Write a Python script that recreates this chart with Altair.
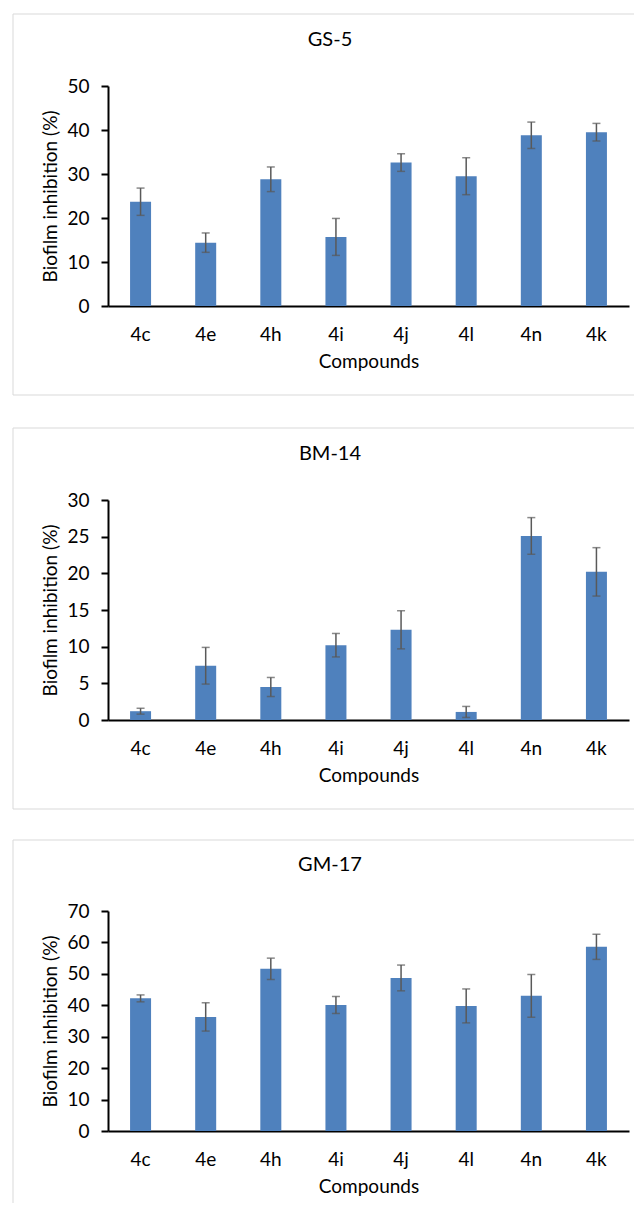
import altair as alt
import pandas as pd

compounds = ["4c", "4e", "4h", "4i", "4j", "4l", "4n", "4k"]

gs5_mean = [23.7, 14.4, 28.8, 15.7, 32.6, 29.5, 38.8, 39.5]
gs5_err = [3.1, 2.2, 2.8, 4.2, 2.0, 4.2, 3.0, 2.0]

bm14_mean = [1.2, 7.4, 4.5, 10.2, 12.3, 1.1, 25.1, 20.2]
bm14_err = [0.4, 2.5, 1.3, 1.6, 2.6, 0.75, 2.5, 3.3]

gm17_mean = [42.2, 36.3, 51.6, 40.1, 48.7, 39.8, 43.0, 58.6]
gm17_err = [1.1, 4.5, 3.4, 2.7, 4.1, 5.4, 6.8, 4.0]

FONT = "Lato"
FS = 19
W, H = 521, 220
YTITLE = "Biofilm inhibition (%)"
BAR = "#4F81BD"
ERR = "#595959"
BOX = "#D9D9D9"


def panel(title, means, errs, ymax, step, box_top, box_bottom, draw_bottom=True,
          spacer=None):
    df = pd.DataFrame({"compound": compounds, "mean": means, "err": errs})
    df["lo"] = df["mean"] - df["err"]
    df["hi"] = df["mean"] + df["err"]

    xenc = alt.X(
        "compound:N", sort=compounds, title="Compounds",
        scale=alt.Scale(paddingInner=0, paddingOuter=0),
        axis=alt.Axis(labelAngle=0, ticks=False, tickSize=0, labelPadding=19,
                      titlePadding=8, domainColor="black", domainWidth=2),
    )
    yaxis = alt.Axis(values=list(range(0, ymax + 1, step)), tickSize=7, tickWidth=2,
                     tickColor="black", labelPadding=12, domainColor="black",
                     domainWidth=2, titlePadding=6, grid=False)
    yscale = alt.Scale(domain=[0, ymax], nice=False)

    base = alt.Chart(df)
    bars = base.mark_bar(size=21, color=BAR).encode(
        x=xenc, y=alt.Y("mean:Q", title=YTITLE, scale=yscale, axis=yaxis))
    whisk = base.mark_rule(color=ERR, strokeWidth=1.5).encode(
        x=xenc, y=alt.Y("lo:Q", title=YTITLE, scale=yscale, axis=yaxis), y2="hi:Q")
    cap_hi = base.mark_tick(color=ERR, thickness=1.5, size=8).encode(
        x=xenc, y=alt.Y("hi:Q", title=YTITLE, scale=yscale, axis=yaxis))
    cap_lo = base.mark_tick(color=ERR, thickness=1.5, size=8).encode(
        x=xenc, y=alt.Y("lo:Q", title=YTITLE, scale=yscale, axis=yaxis))

    one = pd.DataFrame({"k": [0]})
    top_line = alt.Chart(one).mark_rule(color=BOX, strokeWidth=1).encode(
        x=alt.value(-95), x2=alt.value(W + 5), y=alt.value(box_top))
    left_line = alt.Chart(one).mark_rule(color=BOX, strokeWidth=1).encode(
        x=alt.value(-95), y=alt.value(box_top), y2=alt.value(box_bottom))
    layers = [top_line, left_line]
    if draw_bottom:
        layers.append(alt.Chart(one).mark_rule(color=BOX, strokeWidth=1).encode(
            x=alt.value(-95), x2=alt.value(W + 5), y=alt.value(box_bottom)))
    if spacer is not None:
        layers.append(alt.Chart(one).mark_rule(color="white", strokeWidth=1).encode(
            x=alt.value(-90), x2=alt.value(-80), y=alt.value(spacer)))
    ttl = alt.Chart(one).mark_text(
        text=title, font=FONT, fontSize=20, color="black", align="center",
        baseline="middle").encode(x=alt.value(222), y=alt.value(-46))
    layers += [bars, whisk, cap_hi, cap_lo, ttl]
    return alt.layer(*layers).properties(width=W, height=H)


chart = alt.vconcat(
    panel("GS-5", gs5_mean, gs5_err, 50, 10, -72, H + 89, spacer=H + 91),
    panel("BM-14", bm14_mean, bm14_err, 30, 5, -72, H + 89),
    panel("GM-17", gm17_mean, gm17_err, 70, 10, -71, H + 72, draw_bottom=False),
    spacing=29,
).properties(
    padding={"top": 5, "left": 4, "right": 0, "bottom": 0}
).configure_view(stroke=None).configure_axis(
    labelFont=FONT, titleFont=FONT, labelFontSize=FS, titleFontSize=FS,
    labelColor="black", titleColor="black", titleFontWeight="normal", grid=False,
)

chart.save("out.html", embed_options={"renderer": "svg", "actions": False})
